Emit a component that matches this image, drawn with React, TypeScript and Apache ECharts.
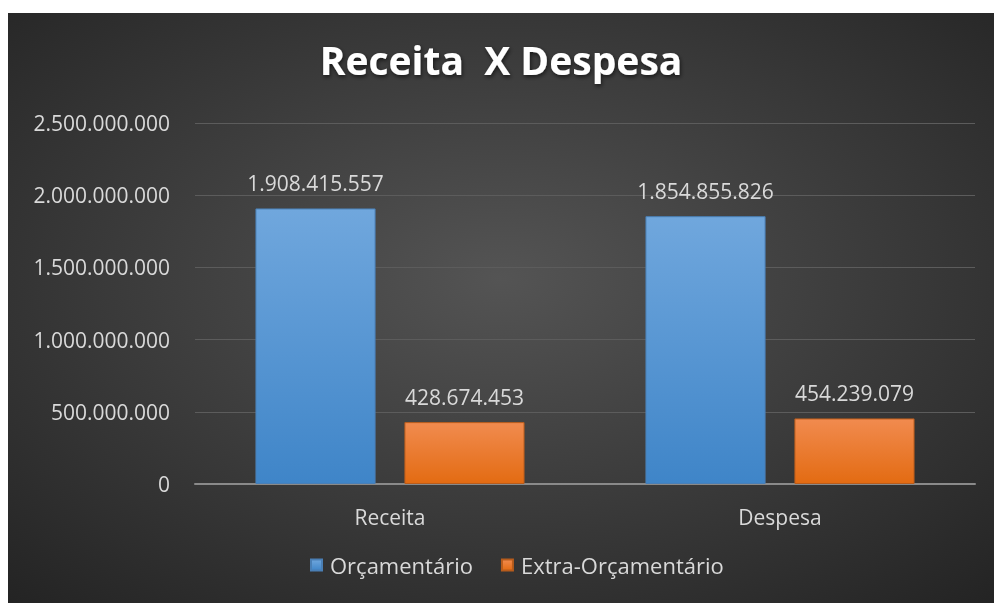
import React, { useEffect, useRef } from "react";
import * as echarts from "echarts";

const categories = ["Receita", "Despesa"];
const orcamentario = [1908415557, 1854855826];
const extraOrcamentario = [428674453, 454239079];
const seriesNames = ["Orçamentário", "Extra-Orçamentário"];
const titleText = "Receita  X Despesa";

const fmt = (v: number) => {
  const s = Math.round(v).toString();
  return s.replace(/\B(?=(\d{3})+(?!\d))/g, ".");
};

export default function App() {
  const ref = useRef<HTMLDivElement>(null);
  useEffect(() => {
    if (!ref.current) return;
    const chart = echarts.init(ref.current, undefined, { renderer: "svg" });
    const font = "'Open Sans', 'Noto Sans', sans-serif";
    const labelColor = "#d9d9d9";
    chart.setOption({
      animation: false,
      backgroundColor: {
        type: "radial",
        x: 0.5,
        y: 0.45,
        r: 0.75,
        colorStops: [
          { offset: 0, color: "#545454" },
          { offset: 1, color: "#232323" },
        ],
      },
      title: {
        text: titleText,
        left: "center",
        top: 22,
        textStyle: {
          color: "#ffffff",
          fontSize: 39,
          fontWeight: "bold",
          fontFamily: font,
          textShadowColor: "rgba(0,0,0,0.6)",
          textShadowBlur: 4,
          textShadowOffsetX: 1,
          textShadowOffsetY: 2,
        },
      },
      legend: {
        data: seriesNames,
        bottom: 22,
        left: 297,
        itemWidth: 11,
        itemHeight: 11,
        itemGap: 28,
        icon: "rect",
        textStyle: { color: labelColor, fontSize: 22, fontFamily: font, padding: [0, 0, 0, 3] },
      },
      grid: { left: 187, right: 19, top: 110, bottom: 119, containLabel: false },
      xAxis: {
        type: "category",
        data: categories,
        axisLine: { lineStyle: { color: "#8a8a8a", width: 2 } },
        axisTick: { show: false },
        axisLabel: { color: labelColor, fontSize: 21, fontFamily: font, margin: 22 },
      },
      yAxis: {
        type: "value",
        min: 0,
        max: 2500000000,
        interval: 500000000,
        axisLine: { show: false },
        axisTick: { show: false },
        splitLine: { lineStyle: { color: "#5c5c5c", width: 1 } },
        axisLabel: {
          color: labelColor,
          fontSize: 21,
          fontFamily: font,
          margin: 25,
          formatter: (v: number) => fmt(v),
        },
      },
      series: [
        {
          name: seriesNames[0],
          type: "bar",
          data: orcamentario,
          barGap: "24%",
          barCategoryGap: "31%",
          itemStyle: {
            color: {
              type: "linear",
              x: 0, y: 0, x2: 0, y2: 1,
              colorStops: [
                { offset: 0, color: "#70a7dd" },
                { offset: 1, color: "#3f85c8" },
              ],
            },
            borderColor: "#4a7fb5",
            borderWidth: 1,
          },
          label: {
            show: true,
            position: "top",
            distance: 15,
            color: labelColor,
            fontSize: 21,
            fontFamily: font,
            formatter: (p: any) => fmt(p.value),
          },
        },
        {
          name: seriesNames[1],
          type: "bar",
          data: extraOrcamentario,
          itemStyle: {
            color: {
              type: "linear",
              x: 0, y: 0, x2: 0, y2: 1,
              colorStops: [
                { offset: 0, color: "#f18b4f" },
                { offset: 1, color: "#e36b12" },
              ],
            },
            borderColor: "#b85c1c",
            borderWidth: 1,
          },
          label: {
            show: true,
            position: "top",
            distance: 15,
            color: labelColor,
            fontSize: 21,
            fontFamily: font,
            formatter: (p: any) => fmt(p.value),
          },
        },
      ],
    });
    return () => chart.dispose();
  }, []);
  return (
    <div
      ref={ref}
      style={{ position: "fixed", left: 8, top: 13, width: 986, height: 590 }}
    />
  );
}
